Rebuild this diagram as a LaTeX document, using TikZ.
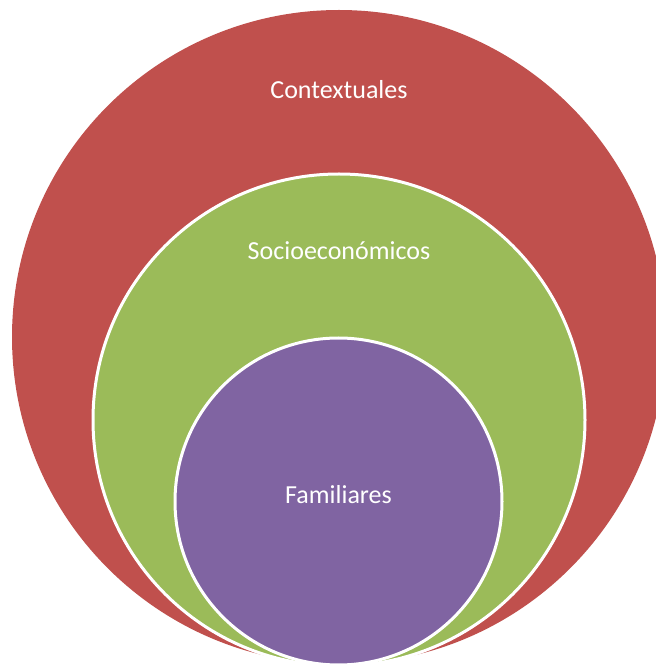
\documentclass[tikz,border=0pt]{standalone}
\usepackage{fontspec}
\setmainfont{Carlito}
\definecolor{ctxred}{HTML}{C0504D}
\definecolor{socgreen}{HTML}{9BBB59}
\definecolor{fampurple}{HTML}{8064A2}
\tikzset{
  ring/.style={circle, inner sep=0pt, outer sep=0pt},
  lbl/.style={text=white, anchor=base, inner sep=0pt, font=\fontsize{26}{30}\selectfont}
}
\begin{document}
\begin{tikzpicture}[x=1pt,y=1pt]
\useasboundingbox (0,0) rectangle (656,665);
\clip (0,0) rectangle (656,665);
\node[ring, fill=ctxred, minimum size=654pt] (ctx) at (339,328) {};
\node[ring, fill=socgreen, draw=white, line width=3pt, minimum size=492pt] (soc) at (339,245) {};
\node[ring, fill=fampurple, draw=white, line width=3pt, minimum size=327pt] (fam) at (338.5,163.5) {};
\node[lbl] (tctx) at (339,566) {Contextuales};
\node[lbl] (tsoc) at (339,405) {Socioeconómicos};
\node[lbl] (tfam) at (338.5,161) {Familiares};
\end{tikzpicture}
\end{document}
